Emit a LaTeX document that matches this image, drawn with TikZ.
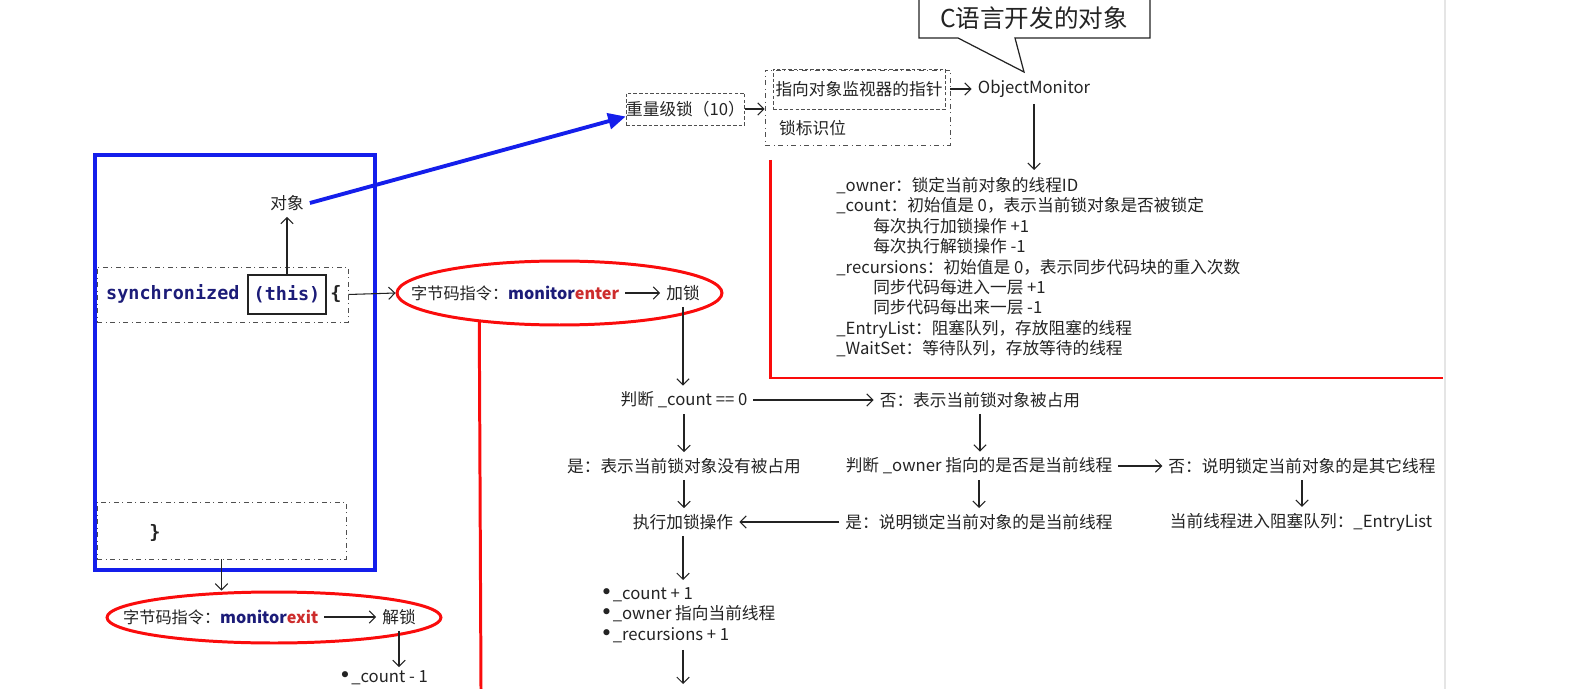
\documentclass[tikz,border=0pt]{standalone}
\usepackage{fontspec}
\newfontfamily\cjk{Noto Sans CJK SC}
\newfontfamily\codefont{DejaVu Sans Mono}
\newfontfamily\symfont{DejaVu Sans}
\usetikzlibrary{arrows.meta,positioning,shapes.geometric}
\definecolor{ink}{RGB}{35,35,35}
\definecolor{codeblue}{RGB}{28,28,120}
\definecolor{kwred}{RGB}{205,45,45}
\definecolor{markred}{RGB}{250,12,12}
\definecolor{markblue}{RGB}{20,30,235}
\newcommand{\opname}[2]{\textbf{\textcolor{codeblue}{#1}\textcolor{kwred}{#2}}}
\newcommand{\dotmark}{{\symfont\fontsize{12}{11.6}\selectfont •}}

\begin{document}
\begin{tikzpicture}[x=0.02cm, y=-0.02cm,
  every node/.style={font=\cjk\fontsize{9.5}{11.6}\selectfont, text=ink},
  arr/.style={-{Straight Barb[length=3.5pt,width=7pt]}, draw=ink, line width=0.6pt},
  bluearr/.style={-{Triangle[length=10pt,width=9pt]}, draw=markblue, fill=markblue, line width=2.2pt},
  oval/.style={ellipse, draw=markred, line width=1.7pt, inner sep=0pt},
  redline/.style={draw=markred, line width=1.7pt},
  dashbox/.style={draw=ink!80, dash pattern=on 2pt off 1.2pt, line width=0.5pt, inner sep=0pt},
  dotbox/.style={draw=ink!80, dash dot, line width=0.5pt, inner sep=0pt},
  code/.style={font=\codefont\bfseries\fontsize{10.5}{12}\selectfont, text=codeblue},
]
\useasboundingbox (0,0) rectangle (1571,689);

% page edge
\draw[black!10, line width=1.2pt] (1445,0) -- (1445,689);

% Callout
\draw[ink, line width=0.7pt, fill=white] (919,-10) -- (919,38) -- (958,38) -- (1024,72) -- (1015,38) -- (1150,38) -- (1150,-10);
\node[font=\cjk\fontsize{14}{16}\selectfont] (cNote) at (1034,18) {C语言开发的对象};

% Mark word
\node[dashbox, minimum width=2.34cm, minimum height=0.64cm] (heavyLock) at (685.5,109) {重量级锁（10）};
\node[dotbox, minimum width=3.7cm, minimum height=1.5cm] (slotBox) at (857.5,107.5) {};
\node[dashbox, minimum width=3.44cm, minimum height=0.8cm] (ptrBox) at (859,89) {指向对象监视器的指针};
\node[anchor=west] (flagLabel) at (773,128) {锁标识位};
\node (objMon) at (1034,89) {ObjectMonitor};
\draw[arr] (heavyLock.east) -- (heavyLock.east -| slotBox.west);
\draw[arr] (slotBox.east |- ptrBox.east) -- (objMon.west);

% ObjectMonitor fields
\node[anchor=north west, align=left, inner sep=4pt] (fieldList) at (829,170) {%
  \_owner：锁定当前对象的线程ID\\
  \_count：初始值是 0，表示当前锁对象是否被锁定\\
  \hspace*{21pt}每次执行加锁操作 +1\\
  \hspace*{21pt}每次执行解锁操作 -1\\
  \_recursions：初始值是 0，表示同步代码块的重入次数\\
  \hspace*{21pt}同步代码每进入一层 +1\\
  \hspace*{21pt}同步代码每出来一层 -1\\
  \_EntryList：阻塞队列，存放阻塞的线程\\
  \_WaitSet：等待队列，存放等待的线程};
\draw[arr] (objMon.south) -- (objMon.south |- fieldList.north);

% red marks
\draw[redline] (770,160) -- (770,378) -- (1443,378);

% Code block
\draw[markblue, line width=1.8pt] (95,155) rectangle (375,570);
\node (objNode) at (287,203) {对象};
\node[dotbox, minimum width=5.02cm, minimum height=1.1cm] (syncLine) at (222.5,294.5) {};
\node[code, anchor=west] (syncWord) at (100,294) {synchronized};
\node[code, draw=ink, line width=0.6pt, inner sep=0pt, minimum width=1.56cm, minimum height=0.78cm] (thisBox) at (287,294.5) {(this)};
\node[code, text=ink] (openBrace) at (336,294) {\{};
\draw[arr] (thisBox.north) -- (objNode.south);
\draw[bluearr] (objNode.east) -- ([yshift=-0.15cm]heavyLock.west);

\node[dotbox, minimum width=4.98cm, minimum height=1.14cm] (closeLine) at (221.5,530.5) {};
\node[code, text=ink] (closeBrace) at (155,533) {\}};

% monitorenter
\node[oval, minimum width=6.5cm, minimum height=1.28cm] (enterOval) at (559.5,293) {};
\node[anchor=west, font=\cjk\fontsize{9.2}{11}\selectfont] (instrEnter) at (405,293) {字节码指令：\opname{monitor}{enter}};
\node (lockNode) at (683,293) {加锁};
\draw[arr] (syncLine.east) -- (enterOval.west);
\draw[arr] (instrEnter.east) -- (lockNode.west);
\coordinate (redEnd) at (481,689);
\draw[redline] (enterOval.200) -- (redEnd);

% monitorexit
\node[oval, minimum width=6.68cm, minimum height=1.02cm] (exitOval) at (274,617.5) {};
\node[anchor=west, font=\cjk\fontsize{9.2}{11}\selectfont] (instrExit) at (117,617) {字节码指令：\opname{monitor}{exit}};
\node (unlockNode) at (399,617) {解锁};
\node[anchor=west, inner sep=2pt] (decNode) at (335,678) {\dotmark\_count - 1};
\draw[arr] (closeLine.south) -- (closeLine.south |- exitOval.north);
\draw[arr] (instrExit.east) -- (unlockNode.west);
\draw[arr] (unlockNode.south) -- (unlockNode.south |- decNode.north);

% Lock flow
\node (judgeCount) at (684,400) {判断 \_count == 0};
\node (busyNode) at (980,400) {否：表示当前锁对象被占用};
\node (freeNode) at (684,466) {是：表示当前锁对象没有被占用};
\node (judgeOwner) at (979,466) {判断 \_owner 指向的是否是当前线程};
\node (otherNode) at (1302,466) {否：说明锁定当前对象的是其它线程};
\node (selfNode) at (979,522) {是：说明锁定当前对象的是当前线程};
\node (blockNode) at (1301,522) {当前线程进入阻塞队列：\_EntryList};
\node (doLock) at (683,522) {执行加锁操作};
\node[anchor=north west, align=left, inner sep=4pt] (incList) at (593,580) {%
  \dotmark\_count + 1\\
  \dotmark\_owner 指向当前线程\\
  \dotmark\_recursions + 1};
\coordinate (tailEnd) at (683,684);

\draw[arr] (lockNode.south) -- (lockNode.south |- judgeCount.north);
\draw[arr] (judgeCount.east) -- (busyNode.west);
\draw[arr] (judgeCount.south) -- (freeNode.north);
\draw[arr] (busyNode.south) -- (busyNode.south |- judgeOwner.north);
\draw[arr] (judgeOwner.east) -- (otherNode.west);
\draw[arr] (otherNode.south) -- (otherNode.south |- blockNode.north);
\draw[arr] (judgeOwner.south) -- (selfNode.north);
\draw[arr] (selfNode.west) -- (doLock.east);
\draw[arr] (freeNode.south) -- (freeNode.south |- doLock.north);
\draw[arr] (doLock.south) -- (doLock.south |- incList.north);
\draw[arr] (doLock.south |- incList.south) -- (tailEnd);

\end{tikzpicture}
\end{document}
